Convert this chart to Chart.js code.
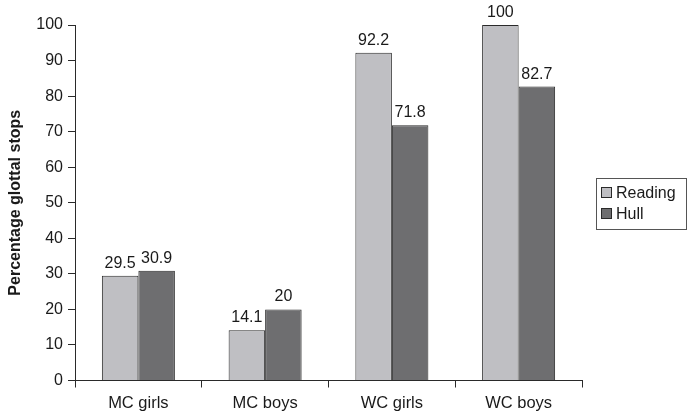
<!DOCTYPE html>
<html>
<head>
<meta charset="utf-8">
<script src="https://cdn.jsdelivr.net/npm/chart.js@4/dist/chart.umd.min.js"></script>
<style>
  html, body { margin: 0; padding: 0; background: #fff; }
  #wrap { width: 687px; height: 417px; position: relative; }
</style>
</head>
<body>
<div id="wrap"><canvas id="c"></canvas></div>
<script>
// glottal stop chart
const categories = ["MC girls", "MC boys", "WC girls", "WC boys"];
const readingVals = [29.5, 14.1, 92.2, 100];
const hullVals = [30.9, 20, 71.8, 82.7];
const seriesNames = ["Reading", "Hull"];

const FONT = '"Liberation Sans", Arial, Helvetica, sans-serif';
const INK = "#2a2a2a";
const LIGHT = "#bfbfc3";
const DARK = "#6e6e70";

// numbers above bars
const barLabels = {
  id: "barLabels",
  afterDatasetsDraw(chart) {
    const ctx = chart.ctx;
    ctx.save();
    ctx.font = "16px " + FONT;
    ctx.fillStyle = "#1a1a1a";
    ctx.textAlign = "center";
    ctx.textBaseline = "alphabetic";
    chart.data.datasets.forEach((ds, i) => {
      chart.getDatasetMeta(i).data.forEach((bar, j) => {
        ctx.fillText(String(ds.data[j]), bar.x, bar.y - 8);
      });
    });
    ctx.restore();
  }
};

// boxed legend on the right
const boxLegend = {
  id: "boxLegend",
  afterDraw(chart) {
    const ctx = chart.ctx;
    const x0 = 596, y0 = 178, w = 90, h = 51;
    ctx.save();
    ctx.strokeStyle = "#555";
    ctx.lineWidth = 1;
    ctx.strokeRect(x0 + 0.5, y0 + 0.5, w, h);
    ctx.font = "16px " + FONT;
    ctx.textBaseline = "middle";
    ctx.textAlign = "left";
    chart.data.datasets.forEach((ds, i) => {
      const cy = y0 + 15 + i * 21;
      ctx.fillStyle = ds.backgroundColor;
      ctx.fillRect(x0 + 5.5, cy - 5.5, 10, 10);
      ctx.strokeStyle = INK;
      ctx.strokeRect(x0 + 5.5, cy - 5.5, 10, 10);
      ctx.fillStyle = "#1a1a1a";
      ctx.fillText(ds.label, x0 + 20, cy + 1);
    });
    ctx.restore();
  }
};

new Chart(document.getElementById("c"), {
  type: "bar",
  data: {
    labels: categories,
    datasets: [
      { label: seriesNames[0], data: readingVals, backgroundColor: LIGHT, borderColor: INK, borderWidth: 1 },
      { label: seriesNames[1], data: hullVals, backgroundColor: DARK, borderColor: INK, borderWidth: 1 },
    ],
  },
  options: {
    responsive: true,
    maintainAspectRatio: false,
    animation: false,
    categoryPercentage: 0.576,
    barPercentage: 1,
    layout: { padding: { top: 25, right: 105, left: 6, bottom: 0 } },
    plugins: { legend: { display: false }, tooltip: { enabled: false } },
    scales: {
      x: {
        afterFit: (s) => { s.height = 36.5; },
        border: { color: INK, width: 1 },
        grid: { offset: true, drawOnChartArea: false, tickLength: 7, color: INK },
        ticks: { color: "#1a1a1a", font: { family: FONT, size: 16.5 }, padding: 6 },
      },
      y: {
        min: 0, max: 100,
        afterFit: (s) => { s.width = 69; },
        border: { color: INK, width: 1 },
        grid: { drawOnChartArea: false, tickLength: 7, color: INK },
        ticks: { stepSize: 10, color: "#1a1a1a", font: { family: FONT, size: 16 }, padding: 5 },
        title: { display: true, text: "Percentage glottal stops", color: "#1a1a1a", font: { family: FONT, size: 16, weight: "bold" }, padding: { top: 0, bottom: 4 } },
      },
    },
  },
  plugins: [barLabels, boxLegend],
});
</script>
</body>
</html>
